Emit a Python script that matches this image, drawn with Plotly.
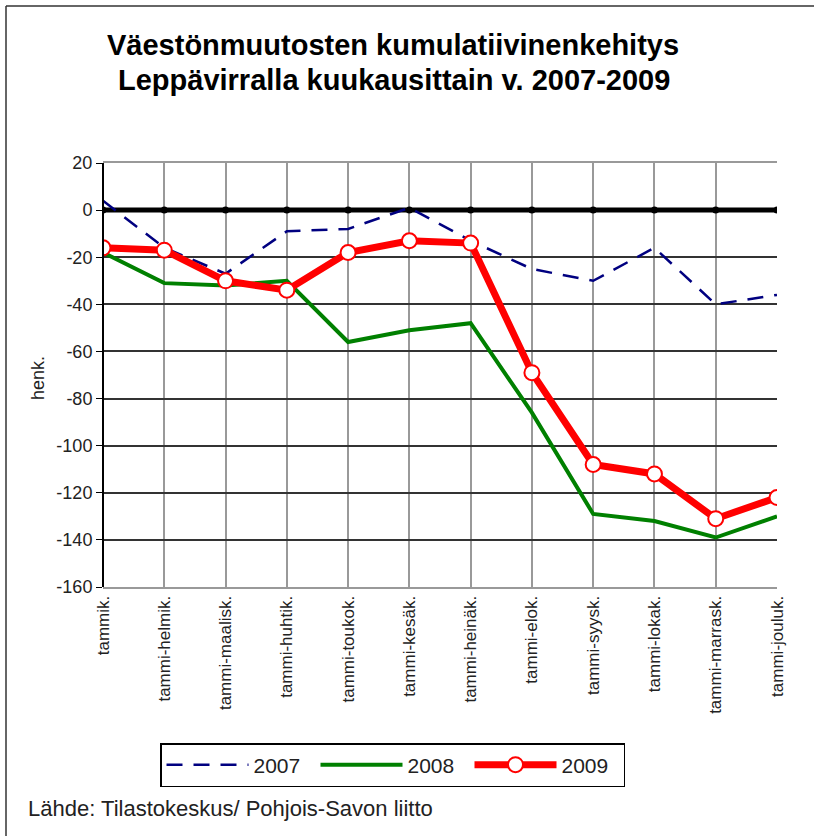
import plotly.graph_objects as go

months = ["tammik.", "tammi-helmik.", "tammi-maalisk.", "tammi-huhtik.", "tammi-toukok.",
          "tammi-kesäk.", "tammi-heinäk.", "tammi-elok.", "tammi-syysk.", "tammi-lokak.",
          "tammi-marrask.", "tammi-jouluk."]
s2007 = [4, -16, -27, -9, -8, 1, -13, -25, -30, -16, -40, -36]
s2008 = [-18, -31, -32, -30, -56, -51, -48, -86, -129, -132, -139, -130]
s2009 = [-16, -17, -30, -34, -18, -13, -14, -69, -108, -112, -131, -122]
baseline = [0] * 12
y_ticks = [20, 0, -20, -40, -60, -80, -100, -120, -140, -160]
y_tick_text = ["20", "0", "-20", "-40", "-60", "-80", "-100", "-120", "-140", "-160"]

FONT = "Liberation Sans, Arial, sans-serif"

fig = go.Figure()
fig.add_trace(go.Scatter(x=months, y=baseline, mode="lines+markers", showlegend=False,
                         line=dict(color="black", width=5),
                         marker=dict(color="black", size=7, symbol="circle"),
                         hoverinfo="skip"))
fig.add_trace(go.Scatter(x=months, y=s2007, mode="lines", name="2007",
                         line=dict(color="#000080", width=2.5, dash="16px,11px")))
fig.add_trace(go.Scatter(x=months, y=s2008, mode="lines", name="2008",
                         line=dict(color="#008000", width=4)))
fig.add_trace(go.Scatter(x=months, y=s2009, mode="lines+markers", name="2009",
                         line=dict(color="#FF0000", width=7),
                         marker=dict(color="white", size=15, line=dict(color="#FF0000", width=2))))

L, R, T, B = 103, 37, 163, 249
W, H = 814, 836
pw = W - L - R
ph = H - T - B

def px(x):
    return (x - L) / pw

def py(y):
    return (H - B - y) / ph

fig.update_layout(
    width=W, height=H,
    margin=dict(l=L, r=R, t=T, b=B, autoexpand=False),
    paper_bgcolor="white", plot_bgcolor="white",
    font=dict(family=FONT, color="black", size=15),
    showlegend=True,
    legend=dict(orientation="h", x=px(160), y=py(743), xanchor="left", yanchor="top",
                bordercolor="black", borderwidth=1.5, bgcolor="white",
                font=dict(size=21, family=FONT, color="#222"),
                entrywidth=57, entrywidthmode="pixels", itemwidth=82,
                tracegroupgap=0),
    xaxis=dict(type="category", range=[0, 11], showgrid=True, gridcolor="#999999", gridwidth=1.5,
               tickangle=-90, tickfont=dict(size=17, color="#222"), ticks="", showline=True,
               linecolor="#999999", linewidth=2, mirror=True, zeroline=False),
    yaxis=dict(range=[-160, 20], tickmode="array", tickvals=y_ticks, ticktext=y_tick_text,
               showgrid=True, gridcolor="#333333",
               gridwidth=1.5, ticks="outside", ticklen=6, tickcolor="black",
               tickfont=dict(size=18, color="#222"), showline=False, zeroline=False),
    shapes=[
        dict(type="line", xref="paper", yref="paper", x0=0, x1=0, y0=0, y1=1,
             line=dict(color="black", width=2)),
        dict(type="line", xref="paper", yref="paper", x0=px(6), x1=px(6), y0=py(836), y1=py(6),
             line=dict(color="#333", width=1.5)),
        dict(type="line", xref="paper", yref="paper", x0=px(6), x1=px(814), y0=py(6), y1=py(6),
             line=dict(color="#333", width=1.5)),
    ],
    annotations=[
        dict(text="<b>Väestönmuutosten kumulatiivinenkehitys</b>", xref="paper", yref="paper",
             x=px(393), y=py(45), xanchor="center", yanchor="middle", showarrow=False,
             font=dict(size=29, family=FONT, color="black")),
        dict(text="<b>Leppävirralla kuukausittain v. 2007-2009</b>", xref="paper", yref="paper",
             x=px(394), y=py(80), xanchor="center", yanchor="middle", showarrow=False,
             font=dict(size=29, family=FONT, color="black")),
        dict(text="henk.", xref="paper", yref="paper", x=px(38), y=py(378), textangle=-90,
             xanchor="center", yanchor="middle",
             showarrow=False, font=dict(size=18, family=FONT, color="#222")),
        dict(text="Lähde: Tilastokeskus/ Pohjois-Savon liitto", xref="paper", yref="paper",
             x=px(26), y=py(808), xanchor="left", yanchor="middle", showarrow=False,
             font=dict(size=22, family=FONT, color="#222")),
    ],
)

fig.write_html("out.html", config={"displayModeBar": False},
               post_script="document.body.style.margin='0';document.body.style.padding='0';")
